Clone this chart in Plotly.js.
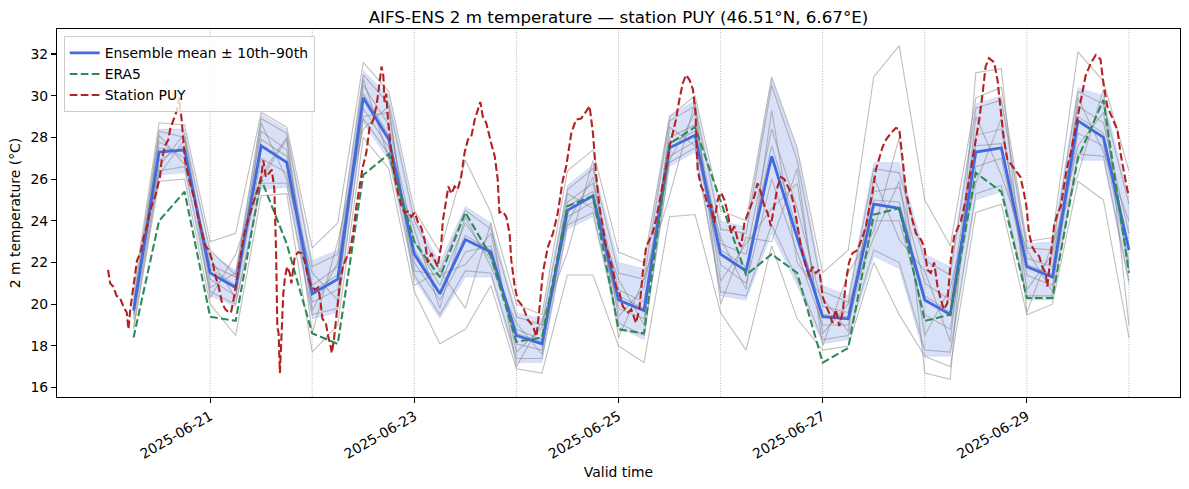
<!DOCTYPE html>
<html>
<head>
<meta charset="utf-8">
<script src="https://cdn.plot.ly/plotly-3.0.1.min.js"></script>
<style>
  html, body { margin: 0; padding: 0; background: #ffffff; }
  #chart { width: 1189px; height: 489px; }
</style>
</head>
<body>
<div id="chart"></div>
<script>
// ---- Forecast grid: 6-hourly steps starting 2025-06-20 06:00 UTC ----
const forecastStartHour = 6;
const forecastStepHours = 6;

// Ensemble mean (°C)
const ensMean = [19.7, 27.3, 27.4, 21.5, 20.8, 27.6, 26.8, 20.5, 21.2, 29.9,
                 27.9, 22.4, 20.5, 23.1, 22.5, 18.5, 18.1, 24.5, 25.2, 20.2,
                 19.7, 27.5, 28.1, 22.4, 21.6, 27.1, 23.2, 19.4, 19.3, 24.8,
                 24.6, 20.2, 19.5, 27.3, 27.5, 21.8, 21.3, 28.8, 28.0, 22.6];

// Ensemble 10th and 90th percentiles (°C)
const ensP10 = [19.2, 26.2, 26.3, 20.4, 19.9, 25.5, 25.6, 19.3, 19.6, 28.7,
                26.9, 21.2, 19.3, 21.3, 21.3, 17.2, 17.2, 23.6, 24.2, 18.9,
                18.3, 26.6, 27.3, 20.4, 20.2, 23.4, 20.9, 18.1, 18.3, 22.3,
                21.7, 17.5, 17.5, 25.0, 25.4, 20.2, 20.2, 26.9, 26.9, 20.9];
const ensP90 = [20.3, 28.4, 28.4, 22.5, 21.6, 29.1, 28.4, 22.1, 22.6, 31.2,
                30.0, 24.2, 22.0, 24.7, 23.9, 19.6, 19.3, 25.7, 26.7, 22.0,
                21.7, 29.0, 29.8, 24.0, 23.7, 30.8, 27.4, 20.9, 20.4, 26.8,
                26.8, 22.4, 21.8, 29.6, 30.0, 22.9, 23.0, 30.4, 30.0, 25.1];

// Individual ensemble members (°C)
const members = [
  [20.6, 28.7, 28.6, 23.0, 23.4, 29.2, 28.5, 22.7, 23.9, 31.6, 30.2, 24.5, 22.5, 26.9, 24.4, 20.0, 19.5, 26.4, 27.4, 22.5,
   22.0, 29.0, 30.0, 24.5, 24.0, 30.9, 27.5, 21.5, 22.6, 30.9, 32.4, 25.0, 22.8, 29.9, 30.4, 23.0, 23.2, 32.1, 30.7, 26.4],
  [18.8, 25.9, 26.0, 20.0, 18.5, 25.2, 25.3, 17.7, 19.0, 28.0, 26.5, 20.6, 18.1, 18.8, 20.9, 16.9, 16.7, 21.4, 21.4, 18.0,
   17.2, 24.2, 24.3, 19.6, 17.8, 22.8, 19.3, 17.8, 18.0, 22.0, 19.5, 17.5, 17.0, 24.4, 24.8, 19.5, 20.0, 25.9, 25.0, 18.4],
  [20.2, 28.3, 28.0, 22.6, 21.4, 28.9, 28.2, 21.8, 22.4, 31.0, 29.6, 24.0, 21.6, 24.5, 23.6, 19.4, 19.0, 25.5, 26.5, 21.5,
   21.2, 28.8, 29.5, 23.6, 23.4, 30.5, 26.9, 20.6, 20.1, 26.5, 26.3, 22.1, 21.4, 29.4, 29.8, 22.7, 22.6, 30.2, 29.6, 24.8],
  [19.3, 26.4, 26.6, 20.6, 20.0, 25.8, 25.8, 19.5, 19.8, 28.9, 27.2, 21.4, 19.5, 21.6, 21.5, 17.4, 17.4, 23.8, 24.4, 19.1,
   18.5, 26.8, 27.5, 20.6, 20.4, 23.8, 21.2, 18.3, 18.5, 22.6, 22.0, 17.8, 17.7, 25.3, 25.7, 20.4, 20.4, 27.2, 27.1, 21.1],
  [19.9, 27.8, 27.0, 21.9, 21.3, 28.3, 27.4, 20.9, 21.8, 30.5, 28.6, 23.0, 20.9, 23.9, 22.1, 18.8, 18.3, 24.9, 25.8, 20.7,
   20.1, 28.0, 28.6, 22.9, 22.4, 28.4, 24.6, 19.9, 19.6, 25.4, 25.6, 21.0, 20.2, 28.1, 28.4, 22.2, 21.8, 29.5, 28.7, 23.4],
  [19.5, 26.9, 27.6, 21.2, 20.4, 27.0, 26.3, 20.1, 20.7, 29.4, 27.5, 22.0, 20.2, 22.5, 22.8, 18.1, 17.8, 24.2, 24.9, 19.8,
   19.3, 27.1, 27.8, 21.9, 21.0, 26.0, 22.5, 19.0, 19.0, 24.0, 24.0, 19.5, 18.8, 26.6, 27.0, 21.4, 20.9, 28.2, 27.6, 22.0],
  [19.6, 28.1, 26.7, 22.2, 20.3, 28.7, 26.0, 21.5, 20.2, 30.8, 27.0, 23.6, 19.8, 24.2, 21.8, 19.1, 17.6, 25.3, 24.6, 21.2,
   19.0, 28.5, 27.6, 23.2, 20.7, 29.3, 22.0, 20.3, 18.7, 26.1, 23.1, 21.6, 18.2, 29.0, 26.2, 22.6, 20.6, 29.9, 27.3, 24.0],
  [20.0, 26.6, 28.2, 20.8, 21.5, 26.2, 28.0, 19.7, 22.0, 29.0, 29.2, 21.6, 21.4, 21.9, 23.4, 17.7, 18.9, 23.9, 26.1, 19.4,
   20.8, 26.9, 29.2, 21.1, 22.9, 24.6, 25.8, 18.6, 20.0, 23.2, 25.9, 18.5, 20.8, 25.8, 28.9, 20.7, 22.4, 27.6, 29.2, 21.6],
  [19.8, 27.5, 27.3, 21.7, 20.9, 27.9, 27.1, 20.6, 21.4, 30.1, 28.1, 22.6, 20.6, 23.3, 22.6, 18.6, 18.2, 24.7, 25.4, 20.4,
   19.8, 27.7, 28.3, 22.6, 21.8, 27.6, 23.6, 19.5, 19.4, 25.0, 24.9, 20.4, 19.6, 27.6, 27.7, 21.9, 21.4, 29.0, 28.2, 22.8],
  [18.9, 26.2, 27.9, 20.3, 22.4, 26.0, 27.9, 18.6, 23.0, 28.4, 29.5, 20.9, 21.6, 19.8, 23.9, 17.0, 19.2, 22.5, 26.9, 18.4,
   21.2, 25.2, 29.7, 20.0, 23.2, 23.0, 26.5, 18.0, 21.5, 23.5, 28.0, 16.7, 16.4, 31.1, 31.3, 19.6, 22.9, 26.2, 30.3, 19.0]
];

// ERA5 reanalysis at the forecast steps (°C)
const era5 = [18.4, 24.0, 25.4, 19.4, 19.2, 26.0, 22.9, 18.6, 18.1, 26.2,
              27.2, 23.0, 21.3, 24.4, 22.3, 18.2, 18.4, 24.7, 25.2, 18.8,
              18.6, 27.7, 28.5, 25.0, 21.4, 22.4, 21.5, 17.2, 17.9, 24.3,
              24.6, 19.2, 19.5, 26.3, 25.4, 20.3, 20.3, 27.0, 29.8, 21.5];

// Station PUY observations: hours after 2025-06-20 00:00 UTC and temperature (°C)
const stationHours = [
  0, 0.5, 1.2, 2, 2.8, 3.6, 4.4, 4.8, 5.2, 6, 6.8, 7.6, 8.4, 9.1, 9.9, 11.1, 11.8, 12.2, 12.6, 13.4,
  14.2, 14.6, 15.4, 16.2, 16.7, 17.3, 18.1, 18.9, 19.7, 20.5, 21.3, 22.1, 22.9, 23.7, 24.5, 25.3, 26.0, 26.8, 27.6, 28.4,
  28.9, 29.5, 30.3, 31.1, 31.9, 32.7, 33.5, 34.3, 35.1, 35.9, 36.5, 37.1, 37.9, 38.5, 39.1, 39.5, 39.8, 40.1, 40.4, 40.8,
  41.2, 41.6, 42.1, 42.7, 43.1, 43.9, 44.7, 45.5, 46.2, 47.0, 47.8, 48.6, 49.4, 49.9, 50.4, 51.2, 51.7, 52.3, 52.6, 53.1,
  53.7, 54.5, 55.2, 56.0, 56.8, 57.6, 58.4, 59.2, 59.9, 60.7, 61.5, 62.3, 63.1, 63.5, 64.3, 64.7, 65.0, 65.4, 65.8, 66.6,
  67.4, 68.2, 69.0, 69.7, 70.5, 71.3, 72.1, 72.9, 73.6, 74.4, 75.2, 76.0, 76.8, 77.5, 78.3, 78.7, 79.5, 80.0, 80.7, 81.5,
  82.2, 83.0, 83.8, 84.6, 85.4, 86.2, 86.9, 87.5, 88.1, 88.9, 90.1, 90.9, 91.6, 92.0, 92.8, 93.6, 94.4, 94.8, 95.6, 96.3,
  97.5, 98.7, 99.9, 100.7, 101.4, 102.2, 103.4, 104.6, 105.7, 106.9, 107.7, 108.9, 110.0, 111.2, 112.4, 113.2, 114.0, 114.7, 115.5, 117.1,
  118.7, 119.4, 120.2, 121.0, 122.2, 123.0, 124.1, 124.9, 125.7, 126.5, 127.3, 128.0, 128.8, 129.6, 130.4, 131.2, 132.0, 132.7, 133.5, 134.3,
  135.1, 135.9, 136.7, 137.5, 138.1, 138.6, 139.4, 140.2, 141.0, 141.8, 142.5, 143.3, 144.1, 144.9, 145.7, 146.5, 147.2, 148.0, 148.8, 149.6,
  150.4, 151.1, 151.9, 152.7, 153.5, 154.3, 155.1, 155.8, 156.6, 157.4, 158.2, 159.0, 159.8, 160.5, 161.3, 162.1, 162.9, 164.1, 164.8, 165.6,
  166.4, 167.2, 168.0, 168.8, 169.5, 170.3, 171.1, 171.9, 172.7, 173.5, 174.2, 175.0, 176.2, 177.4, 178.2, 178.9, 179.7, 180.5, 181.3, 182.1,
  182.9, 184.0, 185.2, 186.0, 186.8, 187.6, 188.7, 189.9, 191.1, 191.9, 192.6, 193.4, 194.2, 195.0, 195.8, 196.5, 197.3, 198.1, 198.9, 199.7,
  200.5, 201.6, 202.4, 203.2, 204.0, 204.8, 205.6, 206.3, 207.1, 208.3, 209.1, 209.9, 210.6, 211.4, 212.6, 213.8, 214.5, 215.3, 215.9, 216.5,
  217.3, 218.1, 218.9, 219.6, 220.4, 220.8, 221.6, 222.4, 223.2, 224.0, 224.7, 225.5, 226.3, 227.5, 228.6, 229.8, 231.0, 232.2, 233.3, 234.1,
  234.9, 236.1, 237.3, 238.0, 238.8, 239.6, 240.0
];
const stationTemp = [
  21.65, 21.0, 20.85, 20.4, 20.3, 19.9, 19.6, 18.8, 19.7, 20.85, 22.1, 22.45, 23.25, 23.7, 24.5, 25.2, 25.8, 26.1, 26.9, 27.6,
  27.9, 28.4, 28.85, 29.3, 29.9, 28.85, 26.9, 26.1, 25.5, 24.85, 24.05, 23.4, 22.8, 22.6, 22.1, 21.3, 20.85, 20.05, 19.75, 19.6,
  19.6, 20.2, 21.2, 22.1, 23.25, 23.9, 24.4, 25.0, 25.5, 26.0, 26.9, 26.1, 26.3, 26.45, 25.5, 22.5, 18.9, 18.6, 16.7, 18.6,
  20.5, 21.3, 21.8, 21.5, 21.0, 22.3, 22.5, 22.45, 22.1, 21.3, 20.85, 20.7, 20.8, 20.2, 19.3, 19.1, 18.5, 18.0, 17.65, 18.3,
  19.6, 21.0, 21.8, 22.2, 22.5, 23.4, 24.7, 25.65, 26.6, 27.25, 28.5, 28.8, 29.5, 30.1, 31.4, 31.0, 29.7, 30.1, 28.85, 27.25,
  26.1, 25.3, 24.7, 24.4, 24.45, 24.2, 24.4, 23.9, 23.7, 23.1, 22.0, 22.45, 22.1, 21.8, 22.8, 24.0, 25.0, 25.65, 25.3, 25.65,
  25.5, 26.1, 27.25, 27.9, 28.05, 28.85, 29.3, 29.7, 29.0, 28.7, 27.7, 27.1, 26.0, 24.4, 24.45, 24.2, 23.4, 22.1, 20.85, 20.2,
  19.9, 19.25, 18.95, 18.45, 19.75, 21.5, 22.75, 23.4, 24.35, 25.95, 26.6, 28.2, 28.85, 28.9, 29.25, 29.5, 28.2, 26.3, 24.7, 22.75,
  21.65, 20.85, 20.55, 19.9, 19.6, 19.75, 19.1, 19.75, 21.5, 22.75, 23.1, 23.4, 24.05, 24.85, 25.8, 26.6, 27.55, 28.2, 28.85, 29.8,
  30.6, 31.0, 30.75, 30.3, 29.2, 26.45, 25.65, 25.35, 24.7, 24.75, 23.9, 25.0, 25.35, 25.0, 24.35, 23.4, 23.75, 23.1, 22.75, 23.9,
  24.35, 24.7, 25.15, 25.8, 25.35, 24.7, 24.35, 23.75, 24.7, 25.65, 26.1, 26.0, 25.65, 25.35, 24.7, 23.75, 22.75, 21.8, 21.35, 21.8,
  21.5, 21.65, 20.35, 19.9, 19.6, 19.1, 19.75, 18.95, 19.6, 21.15, 22.0, 22.45, 22.6, 23.25, 23.75, 24.55, 25.35, 26.45, 26.95, 27.55,
  27.9, 28.2, 28.45, 28.4, 26.95, 25.35, 24.35, 23.4, 23.1, 22.75, 21.65, 21.5, 22.0, 20.85, 20.2, 19.75, 20.05, 22.1, 23.25, 23.6,
  24.0, 25.0, 25.95, 26.95, 27.9, 28.85, 30.1, 31.4, 31.8, 31.6, 30.75, 29.2, 27.9, 26.95, 26.6, 26.3, 26.1, 25.35, 24.7, 23.4,
  22.75, 22.45, 22.3, 21.8, 21.5, 20.85, 22.45, 23.75, 24.35, 24.7, 25.65, 26.6, 27.25, 28.55, 29.8, 30.95, 31.55, 31.95, 31.75, 30.45,
  29.5, 28.95, 28.35, 27.25, 26.3, 25.5, 25.2
];

// Axis ticks and midnight markers
const tickDates = ['2025-06-21', '2025-06-23', '2025-06-25', '2025-06-27', '2025-06-29'];
const tickLabels = ['2025-06-21', '2025-06-23', '2025-06-25', '2025-06-27', '2025-06-29'];
const midnightLines = ['2025-06-21', '2025-06-22', '2025-06-23', '2025-06-24', '2025-06-25',
                       '2025-06-26', '2025-06-27', '2025-06-28', '2025-06-29', '2025-06-30'];

// ---- helpers ----
const origin = Date.UTC(2025, 5, 20, 0, 0, 0);
function hoursToStamp(h) {
  const d = new Date(origin + Math.round(h * 3600000));
  return d.toISOString().slice(0, 19).replace('T', ' ');
}
const stepTimes = ensMean.map((_, i) => hoursToStamp(forecastStartHour + forecastStepHours * i));
const stationTimes = stationHours.map(hoursToStamp);

const FONT = 'DejaVu Sans, Verdana, sans-serif';
const BLUE = '#4169E1';
const GREEN = '#2E8B57';
const RED = '#B22222';

const traces = [];

// 10th–90th percentile band
traces.push({
  x: stepTimes, y: ensP90, type: 'scatter', mode: 'lines',
  line: { width: 0.6, color: 'rgba(65,105,225,0.2)' },
  hoverinfo: 'skip', showlegend: false
});
traces.push({
  x: stepTimes, y: ensP10, type: 'scatter', mode: 'lines',
  line: { width: 0.6, color: 'rgba(65,105,225,0.2)' },
  fill: 'tonexty', fillcolor: 'rgba(65,105,225,0.2)',
  hoverinfo: 'skip', showlegend: false
});

// Members
members.forEach((m) => {
  traces.push({
    x: stepTimes, y: m, type: 'scatter', mode: 'lines',
    line: { width: 1.1, color: 'rgba(128,128,128,0.5)' },
    hoverinfo: 'skip', showlegend: false
  });
});

// Ensemble mean
traces.push({
  x: stepTimes, y: ensMean, type: 'scatter', mode: 'lines',
  name: 'Ensemble mean ± 10th–90th',
  line: { width: 2.8, color: BLUE }
});

// ERA5
traces.push({
  x: stepTimes, y: era5, type: 'scatter', mode: 'lines',
  name: 'ERA5',
  line: { width: 2.1, color: GREEN, dash: '7.7px,3.3px' }
});

// Station observations
traces.push({
  x: stationTimes, y: stationTemp, type: 'scatter', mode: 'lines',
  name: 'Station PUY',
  line: { width: 2.1, color: RED, dash: '7.7px,3.3px' }
});

const shapes = midnightLines.map((d) => ({
  type: 'line', xref: 'x', yref: 'paper',
  x0: d, x1: d, y0: 0, y1: 1,
  line: { color: 'rgba(110,110,110,0.6)', width: 0.8, dash: '1px,1.6px' },
  layer: 'below'
}));

const layout = {
  width: 1189, height: 489,
  margin: { l: 57, r: 9, t: 29, b: 92 },
  paper_bgcolor: '#ffffff', plot_bgcolor: '#ffffff',
  font: { family: FONT, size: 13.9, color: '#000000' },
  title: {
    text: 'AIFS-ENS 2 m temperature — station PUY (46.51°N, 6.67°E)',
    font: { family: FONT, size: 16.7, color: '#000000' },
    x: 0.5, xref: 'paper', xanchor: 'center',
    y: 1 - 17 / 489, yref: 'container', yanchor: 'middle'
  },
  xaxis: {
    type: 'date',
    range: ['2025-06-19 12:00:00', '2025-06-30 12:00:00'],
    tickmode: 'array', tickvals: tickDates, ticktext: tickLabels,
    tickangle: -30,
    ticks: 'outside', ticklen: 5, tickwidth: 1.1, tickcolor: '#000000',
    showline: true, mirror: true, linecolor: '#000000', linewidth: 1.1,
    showgrid: false, zeroline: false, automargin: false,
    tickfont: { family: FONT, size: 13.9 },
    title: { text: 'Valid time', font: { family: FONT, size: 13.9 }, standoff: 6 }
  },
  yaxis: {
    range: [15.55, 33.2],
    tickmode: 'linear', tick0: 16, dtick: 2,
    ticks: 'outside', ticklen: 5, tickwidth: 1.1, tickcolor: '#000000',
    showline: true, mirror: true, linecolor: '#000000', linewidth: 1.1,
    showgrid: false, zeroline: false, automargin: false,
    tickfont: { family: FONT, size: 13.9 },
    title: { text: '2 m temperature (°C)', font: { family: FONT, size: 13.9 }, standoff: 6 }
  },
  legend: {
    x: 0.006, y: 0.98, xanchor: 'left', yanchor: 'top',
    traceorder: 'normal',
    bgcolor: 'rgba(255,255,255,0.8)', bordercolor: '#cccccc', borderwidth: 1,
    font: { family: FONT, size: 13.9 },
    tracegroupgap: 0
  },
  shapes: shapes,
  showlegend: true
};

Plotly.newPlot('chart', traces, layout, { displayModeBar: false, staticPlot: true });
</script>
</body>
</html>
